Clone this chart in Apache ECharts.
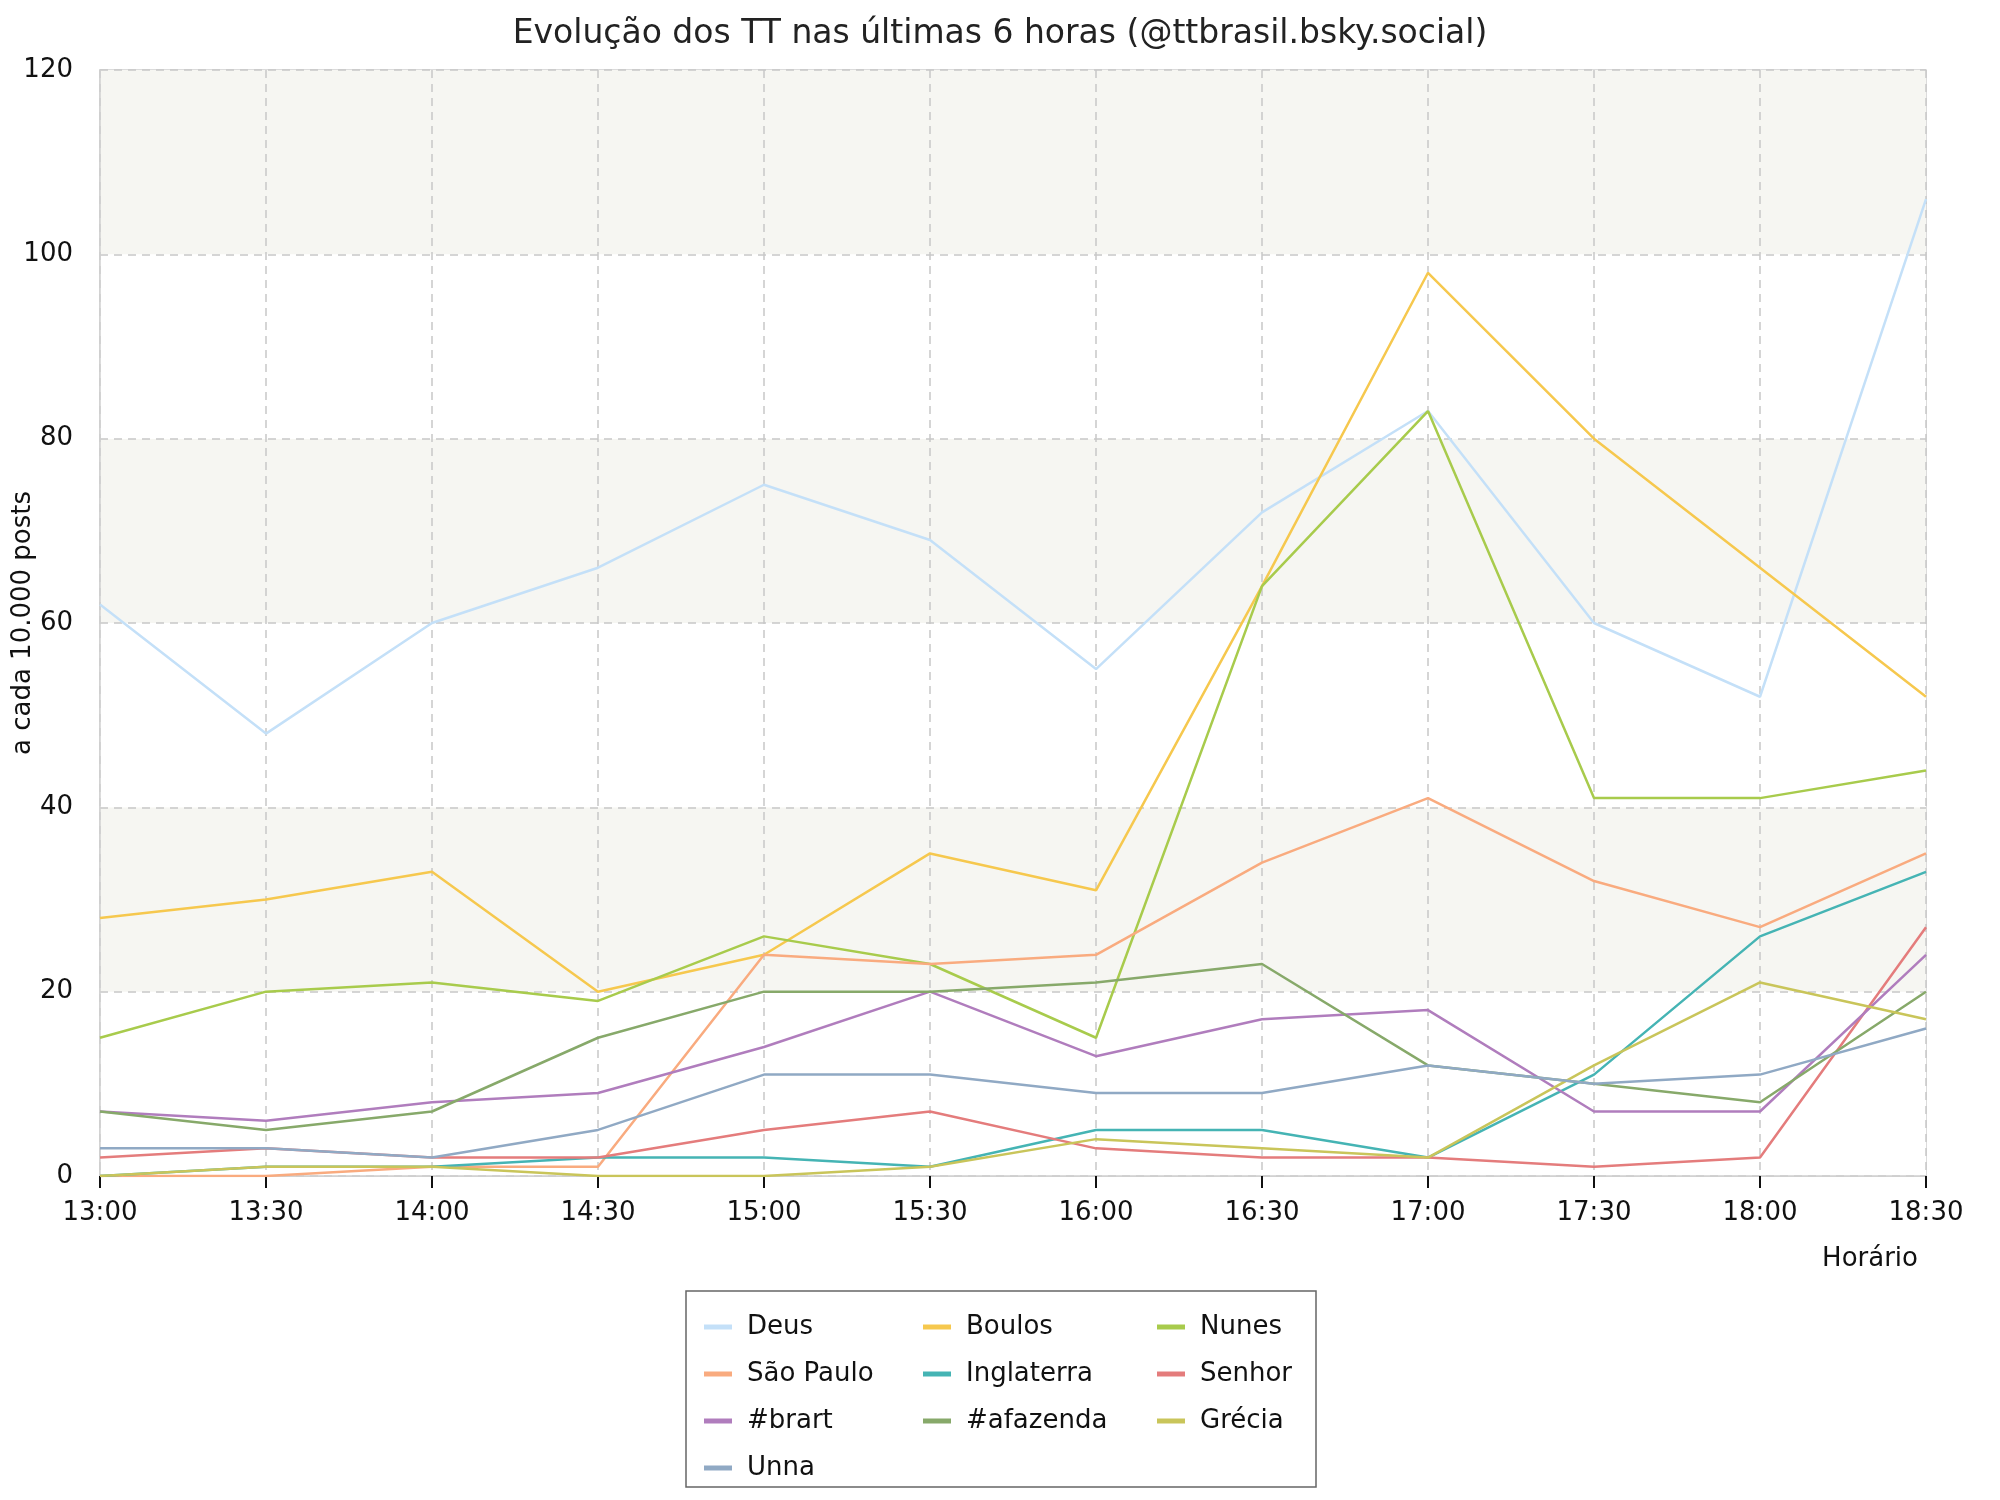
<!DOCTYPE html>
<html>
<head>
<meta charset="utf-8">
<script src="https://cdn.jsdelivr.net/npm/echarts@6/dist/echarts.min.js"></script>
<style>
  html, body { margin: 0; padding: 0; background: #fff; }
  #chart { width: 2000px; height: 1500px; }
</style>
</head>
<body>
<div id="chart"></div>
<script>
// horários (eixo x)
const horarios = ['13:00', '13:30', '14:00', '14:30', '15:00', '15:30',
                  '16:00', '16:30', '17:00', '17:30', '18:00', '18:30'];

// valores por termo (a cada 10.000 posts)
const deus       = [62, 48, 60, 66, 75, 69, 55, 72, 83, 60, 52, 106];
const boulos     = [28, 30, 33, 20, 24, 35, 31, 64, 98, 80, 66, 52];
const nunes      = [15, 20, 21, 19, 26, 23, 15, 64, 83, 41, 41, 44];
const saoPaulo   = [0, 0, 1, 1, 24, 23, 24, 34, 41, 32, 27, 35];
const inglaterra = [0, 1, 1, 2, 2, 1, 5, 5, 2, 11, 26, 33];
const senhor     = [2, 3, 2, 2, 5, 7, 3, 2, 2, 1, 2, 27];
const brart      = [7, 6, 8, 9, 14, 20, 13, 17, 18, 7, 7, 24];
const afazenda   = [7, 5, 7, 15, 20, 20, 21, 23, 12, 10, 8, 20];
const grecia     = [0, 1, 1, 0, 0, 1, 4, 3, 2, 12, 21, 17];
const unna       = [3, 3, 2, 5, 11, 11, 9, 9, 12, 10, 11, 16];

const yTicks = [0, 20, 40, 60, 80, 100, 120];

const series = [
  { name: 'Deus',       data: deus,       color: '#c4e0f8' },
  { name: 'Boulos',     data: boulos,     color: '#f6c84e' },
  { name: 'Nunes',      data: nunes,      color: '#a8cb4c' },
  { name: 'São Paulo',  data: saoPaulo,   color: '#f9ab7f' },
  { name: 'Inglaterra', data: inglaterra, color: '#45b4b4' },
  { name: 'Senhor',     data: senhor,     color: '#e47c7c' },
  { name: '#brart',     data: brart,      color: '#b07dbd' },
  { name: '#afazenda',  data: afazenda,   color: '#87a96a' },
  { name: 'Grécia',     data: grecia,     color: '#c9c55a' },
  { name: 'Unna',       data: unna,       color: '#90a9c4' }
];

const font = 'DejaVu Sans';
const chart = echarts.init(document.getElementById('chart'));

// legenda em 3 colunas
function legendCol(left, names) {
  return {
    orient: 'vertical',
    left: left,
    top: 1309,
    icon: 'rect',
    itemWidth: 28,
    itemHeight: 5,
    itemGap: 21,
    textStyle: { fontFamily: font, fontSize: 26, color: '#111', lineHeight: 26, padding: [0, 0, 0, 10] },
    data: names
  };
}

const option = {
  backgroundColor: '#fff',
  animation: false,
  title: {
    text: 'Evolução dos TT nas últimas 6 horas (@ttbrasil.bsky.social)',
    left: 'center',
    top: 13,
    textStyle: { fontFamily: font, fontSize: 33, fontWeight: 'normal', color: '#222' }
  },
  legend: [
    legendCol(699, ['Deus', 'São Paulo', '#brart', 'Unna']),
    legendCol(918, ['Boulos', 'Inglaterra', '#afazenda']),
    legendCol(1152, ['Nunes', 'Senhor', 'Grécia'])
  ],
  graphic: [{
    type: 'rect',
    shape: { x: 686, y: 1291, width: 630, height: 196 },
    style: { fill: 'none', stroke: '#666', lineWidth: 1.5 }
  }],
  grid: {
    left: 100, right: 74, top: 70, bottom: 324,
    outerBoundsMode: 'none',
    containLabel: false,
    show: true, borderColor: '#d0d0d0', borderWidth: 1.5
  },
  xAxis: {
    type: 'category',
    data: horarios,
    boundaryGap: false,
    name: 'Horário',
    nameLocation: 'end',
    nameGap: -8,
    nameMoveOverlap: false,
    nameTextStyle: { fontFamily: font, fontSize: 26, color: '#111', align: 'right', verticalAlign: 'top', padding: [70, 0, 0, 0] },
    axisLine: { lineStyle: { color: '#d0d0d0', width: 1.5 } },
    axisTick: { show: true, length: 12, lineStyle: { color: '#111', width: 2 } },
    axisLabel: { fontFamily: font, fontSize: 26, color: '#111', margin: 24 },
    splitLine: { show: true, lineStyle: { color: '#c8c8c8', type: [8, 6], width: 1.5 } }
  },
  yAxis: {
    type: 'value',
    min: yTicks[0],
    max: yTicks[yTicks.length - 1],
    interval: 20,
    name: 'a cada 10.000 posts',
    nameLocation: 'middle',
    nameGap: 64,
    nameMoveOverlap: false,
    nameTextStyle: { fontFamily: font, fontSize: 26, color: '#111' },
    axisLine: { show: true, lineStyle: { color: '#d0d0d0', width: 1.5 } },
    axisTick: { show: false },
    axisLabel: { fontFamily: font, fontSize: 26, color: '#111', margin: 27 },
    splitLine: { show: true, lineStyle: { color: '#c8c8c8', type: [8, 6], width: 1.5 } },
    splitArea: { show: true, areaStyle: { color: ['#ffffff', '#f6f6f2'] } }
  },
  series: series.map(s => ({
    name: s.name,
    type: 'line',
    data: s.data,
    showSymbol: false,
    symbol: 'none',
    color: s.color,
    lineStyle: { color: s.color, width: 2.5 }
  }))
};

chart.setOption(option);
</script>
</body>
</html>
